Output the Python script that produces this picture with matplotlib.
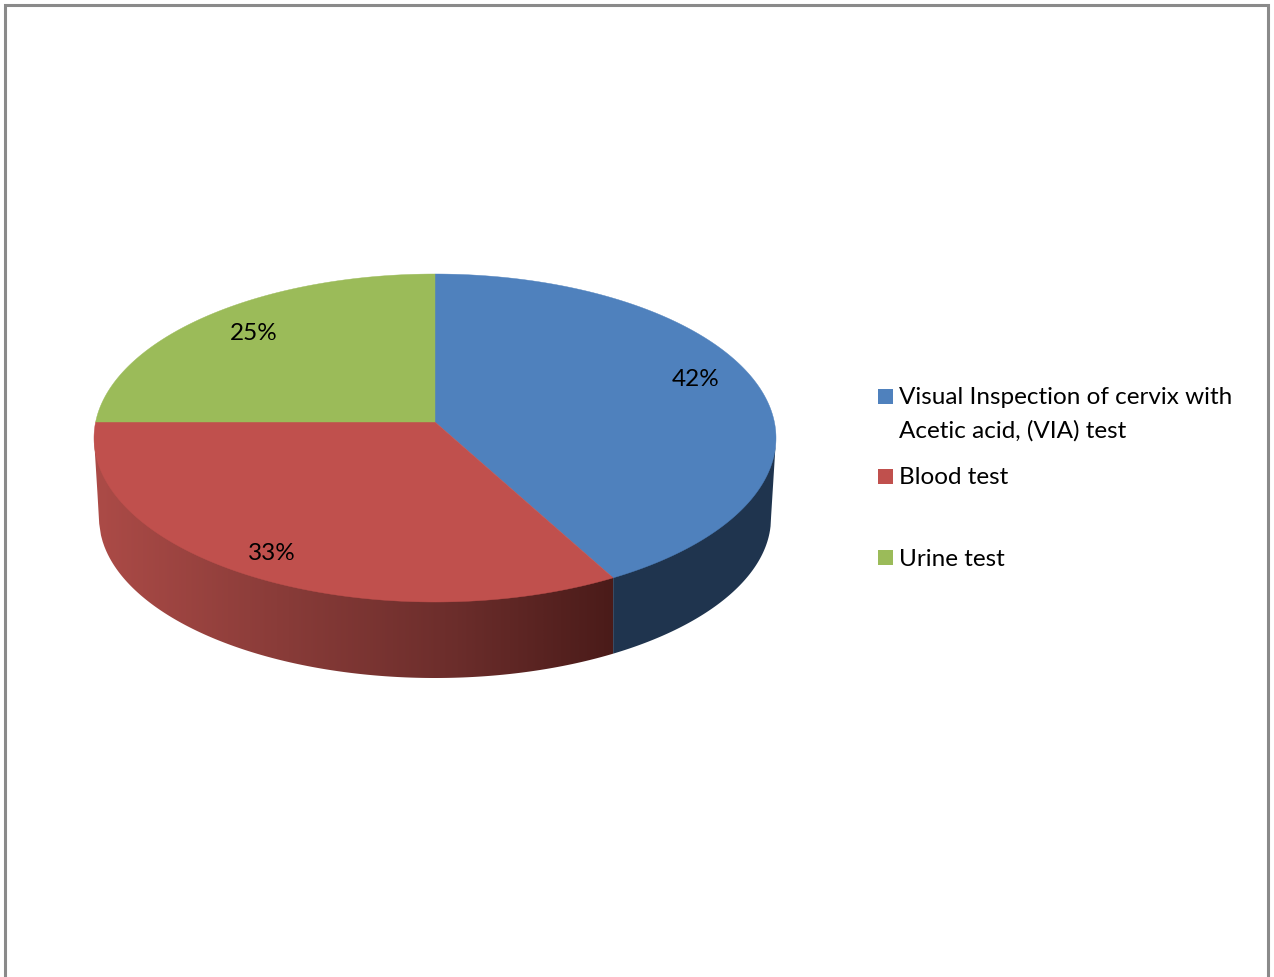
import numpy as np
import matplotlib
matplotlib.use("Agg")
import matplotlib.pyplot as plt
from matplotlib.colors import LinearSegmentedColormap
from matplotlib.patches import Rectangle, Polygon

# Data
categories = ["Visual Inspection of cervix with\nAcetic acid, (VIA) test", "Blood test", "Urine test"]
values = [42, 33, 25]
colors = ["#4F81BD", "#C0504D", "#9BBB59"]

# Layout (pixels)
W, H = 1274, 977
CX, CY, A, B = 435, 438, 341, 164      # top ellipse
AY = 422                               # apex y
BCY, BA, BB = 518, 336, 160            # bottom ellipse
plt.rcParams["font.family"] = ["Lato", "DejaVu Sans"]
FS = 17.5

fig = plt.figure(figsize=(W / 100, H / 100), dpi=100, facecolor="white")
ax = fig.add_axes([0, 0, 1, 1])
ax.axis("off")

# Frame, open at the bottom of the picture
ax.plot([5.3, 5.3, 1267.5, 1267.5], [H + 2, 5.2, 5.2, H + 2], color="#8A8A8A", lw=2.2,
        solid_joinstyle="miter", zorder=1)


def rim(frac):
    th = 2 * np.pi * np.asarray(frac, dtype=float)
    dx, dy = A * np.sin(th), -B * np.cos(th)
    off = AY - CY
    qa = (dx / A) ** 2 + (dy / B) ** 2
    qb = 2 * off * dy / B ** 2
    qc = (off / B) ** 2 - 1
    t = (-qb + np.sqrt(qb ** 2 - 4 * qa * qc)) / (2 * qa)
    return CX + t * dx, AY + t * dy


fracs = np.cumsum([0] + values) / sum(values)


def top_edge(x):
    return CY + B * np.sqrt(np.clip(1 - ((x - CX) / A) ** 2, 0, 1))


def bottom_edge(x):
    y = BCY + BB * np.sqrt(np.clip(1 - ((x - CX) / BA) ** 2, 0, 1))
    inset = A - BA
    lx, rx = CX - A, CX + A
    y = np.where(x < lx + inset, CY + (x - lx) / inset * (BCY - CY), y)
    y = np.where(x > rx - inset, CY + (rx - x) / inset * (BCY - CY), y)
    return y


def wall_outline(x0, x1):
    xs = np.linspace(x0, x1, 300)
    return np.column_stack([np.r_[xs, xs[::-1]],
                            np.r_[top_edge(xs) - 2, bottom_edge(xs)[::-1]]])


# Side wall
xb = float(rim(fracs[1])[0])
red_cmap = LinearSegmentedColormap.from_list(
    "redside", [(0, "#AC4B47"), (0.35, "#8A3C39"), (0.7, "#6B2D2B"), (1, "#4A1B19")])
poly = Polygon(wall_outline(CX - A, xb), closed=True, facecolor="none", edgecolor="none",
               transform=ax.transData)
ax.add_patch(poly)
im = ax.imshow(np.linspace(0, 1, 512)[None, :], cmap=red_cmap, aspect="auto",
               extent=(CX - A, xb, 690, 420), interpolation="bilinear", zorder=2)
im.set_clip_path(poly)
blue_wall = wall_outline(xb, CX + A)
ax.add_patch(Polygon(blue_wall, closed=True, facecolor="#1F344E", edgecolor="none", zorder=2))

# Top faces
for i, c in enumerate(colors):
    f = np.linspace(fracs[i], fracs[i + 1], 200)
    x, y = rim(f)
    ax.fill(np.r_[CX, x], np.r_[AY, y], facecolor=c, edgecolor=c, lw=0.3, zorder=3)

# Value labels
label_xy = [(696, 380), (272, 554), (254, 334)]
for v, (x, y) in zip(values, label_xy):
    ax.text(x, y, f"{v}%", ha="center", va="center", fontsize=FS, color="black", zorder=4)

# Legend
legend_y = [396, 476, 557]
for name, c, y in zip(categories, colors, legend_y):
    ax.add_patch(Rectangle((878, y - 7.5), 15, 15, facecolor=c, edgecolor="none", zorder=4))
    lines = name.split("\n")
    for j, line in enumerate(lines):
        ax.text(899, y + 2 + j * 33, line, ha="left", va="center", fontsize=FS, color="black", zorder=4)

ax.set_xlim(0, W)
ax.set_ylim(H, 0)
fig.savefig("out.png", dpi=100, facecolor="white")
